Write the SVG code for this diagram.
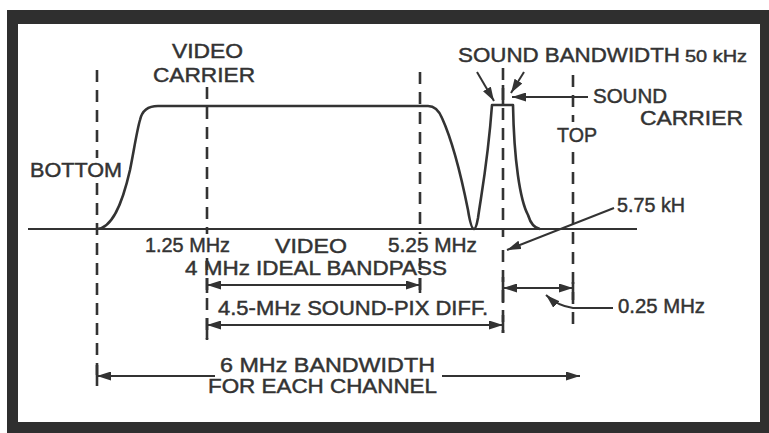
<svg xmlns="http://www.w3.org/2000/svg" width="769" height="433" viewBox="0 0 769 433">
<defs>
<marker id="ah" markerUnits="userSpaceOnUse" markerWidth="14" markerHeight="9" refX="14" refY="4.5" orient="auto-start-reverse" viewBox="0 0 14 9">
<path d="M0,0 L14,4.5 L0,9 z" fill="#333"/>
</marker>
<style>
.t{font-family:"Liberation Sans",Arial,sans-serif;font-size:20px;fill:#333;stroke:#333;stroke-width:0.45px;}
.s{font-size:17px;}
.ln{stroke:#333;stroke-width:2;fill:none;}
.cv{stroke:#333;stroke-width:2.6;fill:none;stroke-linejoin:round;}
.dash{stroke:#333;stroke-width:2.6;fill:none;stroke-dasharray:12 8;}
.tk{stroke:#333;stroke-width:2.6;}
</style>
</defs>
<rect x="0" y="0" width="769" height="433" fill="#ffffff"/>
<path id="frame" d="M7,10 H769 V433 H7 Z M18,24 V422 H760 V24 Z" fill="#2f2f2f" fill-rule="evenodd"/>

<g id="axes">
<line class="ln" x1="28" y1="229" x2="637" y2="229"/>
<line class="dash" x1="97" y1="70" x2="97" y2="158"/>
<line class="dash" x1="97" y1="183" x2="97" y2="383"/>
<line class="dash" x1="207" y1="87" x2="207" y2="234"/>
<line class="dash" x1="207" y1="258" x2="207" y2="340"/>
<line class="dash" x1="420" y1="72" x2="420" y2="234"/>
<line class="dash" x1="420" y1="258" x2="420" y2="292"/>
<line class="dash" x1="503" y1="68" x2="503" y2="237"/>
<line class="dash" x1="503" y1="250" x2="503" y2="333"/>
<line class="dash" x1="573" y1="75" x2="573" y2="122"/>
<line class="dash" x1="573" y1="152" x2="573" y2="328"/>
</g>

<g id="response-curve">
<path class="cv" d="M97,229 C112,228 122,205 130,170 C134,150 137,130 140,120 Q143,106 158,106 L428,106 Q437,106 442,118 C452,140 462,180 468,210 Q471,229 474,229 Q476,229 478,218 C482,190 488,160 492,105 L513,105 C514,160 520,200 528,215 Q532,228 540,229"/>
<line class="tk" x1="503" y1="85" x2="503" y2="105"/>
</g>

<g id="connectors">
<line class="ln" x1="477" y1="72" x2="494" y2="101" marker-end="url(#ah)"/>
<line class="ln" x1="524" y1="72" x2="511" y2="93" marker-end="url(#ah)"/>
<line class="ln" x1="588" y1="97" x2="512" y2="97" marker-end="url(#ah)"/>
<line class="ln" x1="614" y1="208" x2="507" y2="250" marker-end="url(#ah)"/>
<line class="ln" x1="207" y1="285" x2="420" y2="285" marker-start="url(#ah)" marker-end="url(#ah)"/>
<line class="tk" x1="207" y1="278" x2="207" y2="293"/>
<line class="tk" x1="420" y1="278" x2="420" y2="293"/>
<line class="ln" x1="207" y1="325" x2="503" y2="325" marker-start="url(#ah)" marker-end="url(#ah)"/>
<line class="tk" x1="207" y1="318" x2="207" y2="339"/>
<line class="tk" x1="503" y1="315" x2="503" y2="333"/>
<line class="ln" x1="503" y1="288" x2="573" y2="288" marker-start="url(#ah)" marker-end="url(#ah)"/>
<line class="tk" x1="503" y1="277" x2="503" y2="303"/>
<line class="tk" x1="573" y1="282" x2="573" y2="300"/>
<path class="ln" d="M613,308 L573,308 Q558,306 546,295" marker-end="url(#ah)"/>
<line class="ln" x1="215" y1="376" x2="97" y2="376" marker-end="url(#ah)"/>
<line class="tk" x1="97" y1="365" x2="97" y2="386"/>
<line class="ln" x1="442" y1="376" x2="580" y2="376" marker-end="url(#ah)"/>
</g>

<g id="labels">
<text class="t" x="172" y="58" textLength="71" lengthAdjust="spacingAndGlyphs">VIDEO</text>
<text class="t" x="153" y="82" textLength="102" lengthAdjust="spacingAndGlyphs">CARRIER</text>
<text class="t" x="30" y="177" textLength="92" lengthAdjust="spacingAndGlyphs">BOTTOM</text>
<text class="t" x="458" y="62" textLength="222" lengthAdjust="spacingAndGlyphs">SOUND BANDWIDTH</text>
<text class="t s" x="685" y="62" textLength="62" lengthAdjust="spacingAndGlyphs">50 kHz</text>
<text class="t" x="593" y="103" textLength="74" lengthAdjust="spacingAndGlyphs">SOUND</text>
<text class="t" x="640" y="125" textLength="103" lengthAdjust="spacingAndGlyphs">CARRIER</text>
<text class="t" x="557" y="142" textLength="40" lengthAdjust="spacingAndGlyphs">TOP</text>
<text class="t" x="617" y="212" textLength="68" lengthAdjust="spacingAndGlyphs">5.75 kH</text>
<text class="t" x="145" y="252" textLength="85" lengthAdjust="spacingAndGlyphs">1.25 MHz</text>
<text class="t" x="275" y="253" textLength="72" lengthAdjust="spacingAndGlyphs">VIDEO</text>
<text class="t" x="388" y="252" textLength="89" lengthAdjust="spacingAndGlyphs">5.25 MHz</text>
<text class="t" x="185" y="275" textLength="262" lengthAdjust="spacingAndGlyphs">4 MHz IDEAL BANDPASS</text>
<text class="t" x="218" y="315" textLength="270" lengthAdjust="spacingAndGlyphs">4.5-MHz SOUND-PIX DIFF.</text>
<text class="t" x="618" y="313" textLength="87" lengthAdjust="spacingAndGlyphs">0.25 MHz</text>
<text class="t" x="220" y="372" textLength="215" lengthAdjust="spacingAndGlyphs">6 MHz BANDWIDTH</text>
<text class="t" x="208" y="393" textLength="229" lengthAdjust="spacingAndGlyphs">FOR EACH CHANNEL</text>
</g>
</svg>
